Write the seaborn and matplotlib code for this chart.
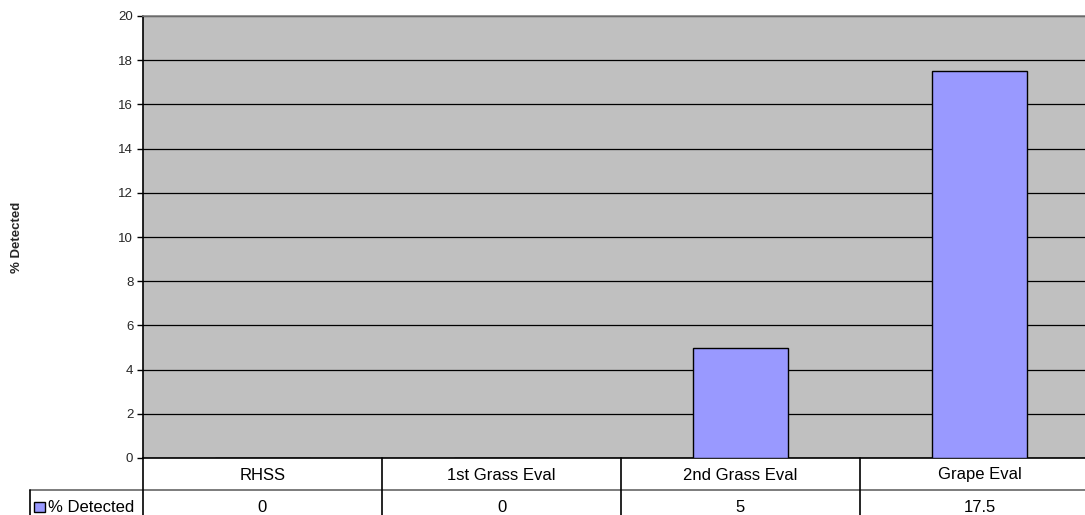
import matplotlib
matplotlib.use("Agg")
import matplotlib.pyplot as plt
from matplotlib.lines import Line2D
from matplotlib.patches import Rectangle
from matplotlib.transforms import blended_transform_factory
import seaborn as sns

categories = ["RHSS", "1st Grass Eval", "2nd Grass Eval", "Grape Eval"]
detected = [0, 0, 5, 17.5]
value_labels = ["0", "0", "5", "17.5"]
series_name = "% Detected"

sns.set_style("white")
plt.rcParams["font.family"] = ["Liberation Sans", "DejaVu Sans"]

BAR = "#9999FF"
PLOT_BG = "#C0C0C0"

fig = plt.figure(figsize=(10.85, 5.15), dpi=100)
ax = fig.add_axes([143 / 1085, 1 - 458 / 515, 956 / 1085, 442 / 515])
ax.set_facecolor(PLOT_BG)

sns.barplot(x=categories, y=detected, color=BAR, edgecolor="black",
            linewidth=1.0, width=0.4, saturation=1, ax=ax, zorder=3)

ax.set_xlim(-0.5, len(categories) - 0.5)
ax.set_ylim(0, 20)
ax.set_yticks(range(0, 21, 2))
ax.yaxis.grid(True, color="black", linewidth=0.9, zorder=0)
ax.set_axisbelow(True)
ax.tick_params(axis="y", left=True, length=4, width=1, color="black",
               labelsize=9.5, pad=3)
ax.tick_params(axis="x", bottom=False, labelbottom=False)
ax.set_xlabel("")
ax.set_ylabel("")

for side in ("left", "bottom"):
    ax.spines[side].set_color("black")
    ax.spines[side].set_linewidth(1.2)
ax.spines["top"].set_color("#808080")
ax.spines["top"].set_linewidth(1.2)
ax.spines["right"].set_visible(False)

fig.text(16.5 / 1085, 1 - 237 / 515, series_name, rotation=90,
         ha="center", va="center", fontsize=9.5, fontweight="bold")

# Data table beneath the plot
tr = blended_transform_factory(ax.transData, fig.transFigure)
row_top = 1 - 458 / 515
row_mid = 1 - 490 / 515
row_bot = 0.0
header_y = 1 - 475 / 515
value_y = 1 - 508 / 515
legend_x = 30 / 1085
line_col = "#666666"

fig.add_artist(Line2D([legend_x, 1.0], [row_mid, row_mid],
                      transform=fig.transFigure, color=line_col, lw=1.2))
fig.add_artist(Line2D([legend_x, legend_x], [row_mid, row_bot],
                      transform=fig.transFigure, color="black", lw=1.2))
for b in [-0.5 + i for i in range(len(categories))]:
    fig.add_artist(Line2D([b, b], [row_top, row_bot], transform=tr,
                          color="black", lw=1.2))

for i, (cat, lab) in enumerate(zip(categories, value_labels)):
    fig.text(i, header_y, cat, transform=tr, ha="center", va="center",
             fontsize=12, color="black")
    fig.text(i, value_y, lab, transform=tr, ha="center", va="center",
             fontsize=12, color="black")

# legend key in the table's row header
fig.add_artist(Rectangle((34 / 1085, 1 - 512 / 515), 11 / 1085, 10 / 515,
                         transform=fig.transFigure, facecolor=BAR,
                         edgecolor="black", lw=1.0))
fig.text(48 / 1085, value_y, series_name, ha="left", va="center",
         fontsize=12, color="black")

fig.savefig("out.png", dpi=100)
